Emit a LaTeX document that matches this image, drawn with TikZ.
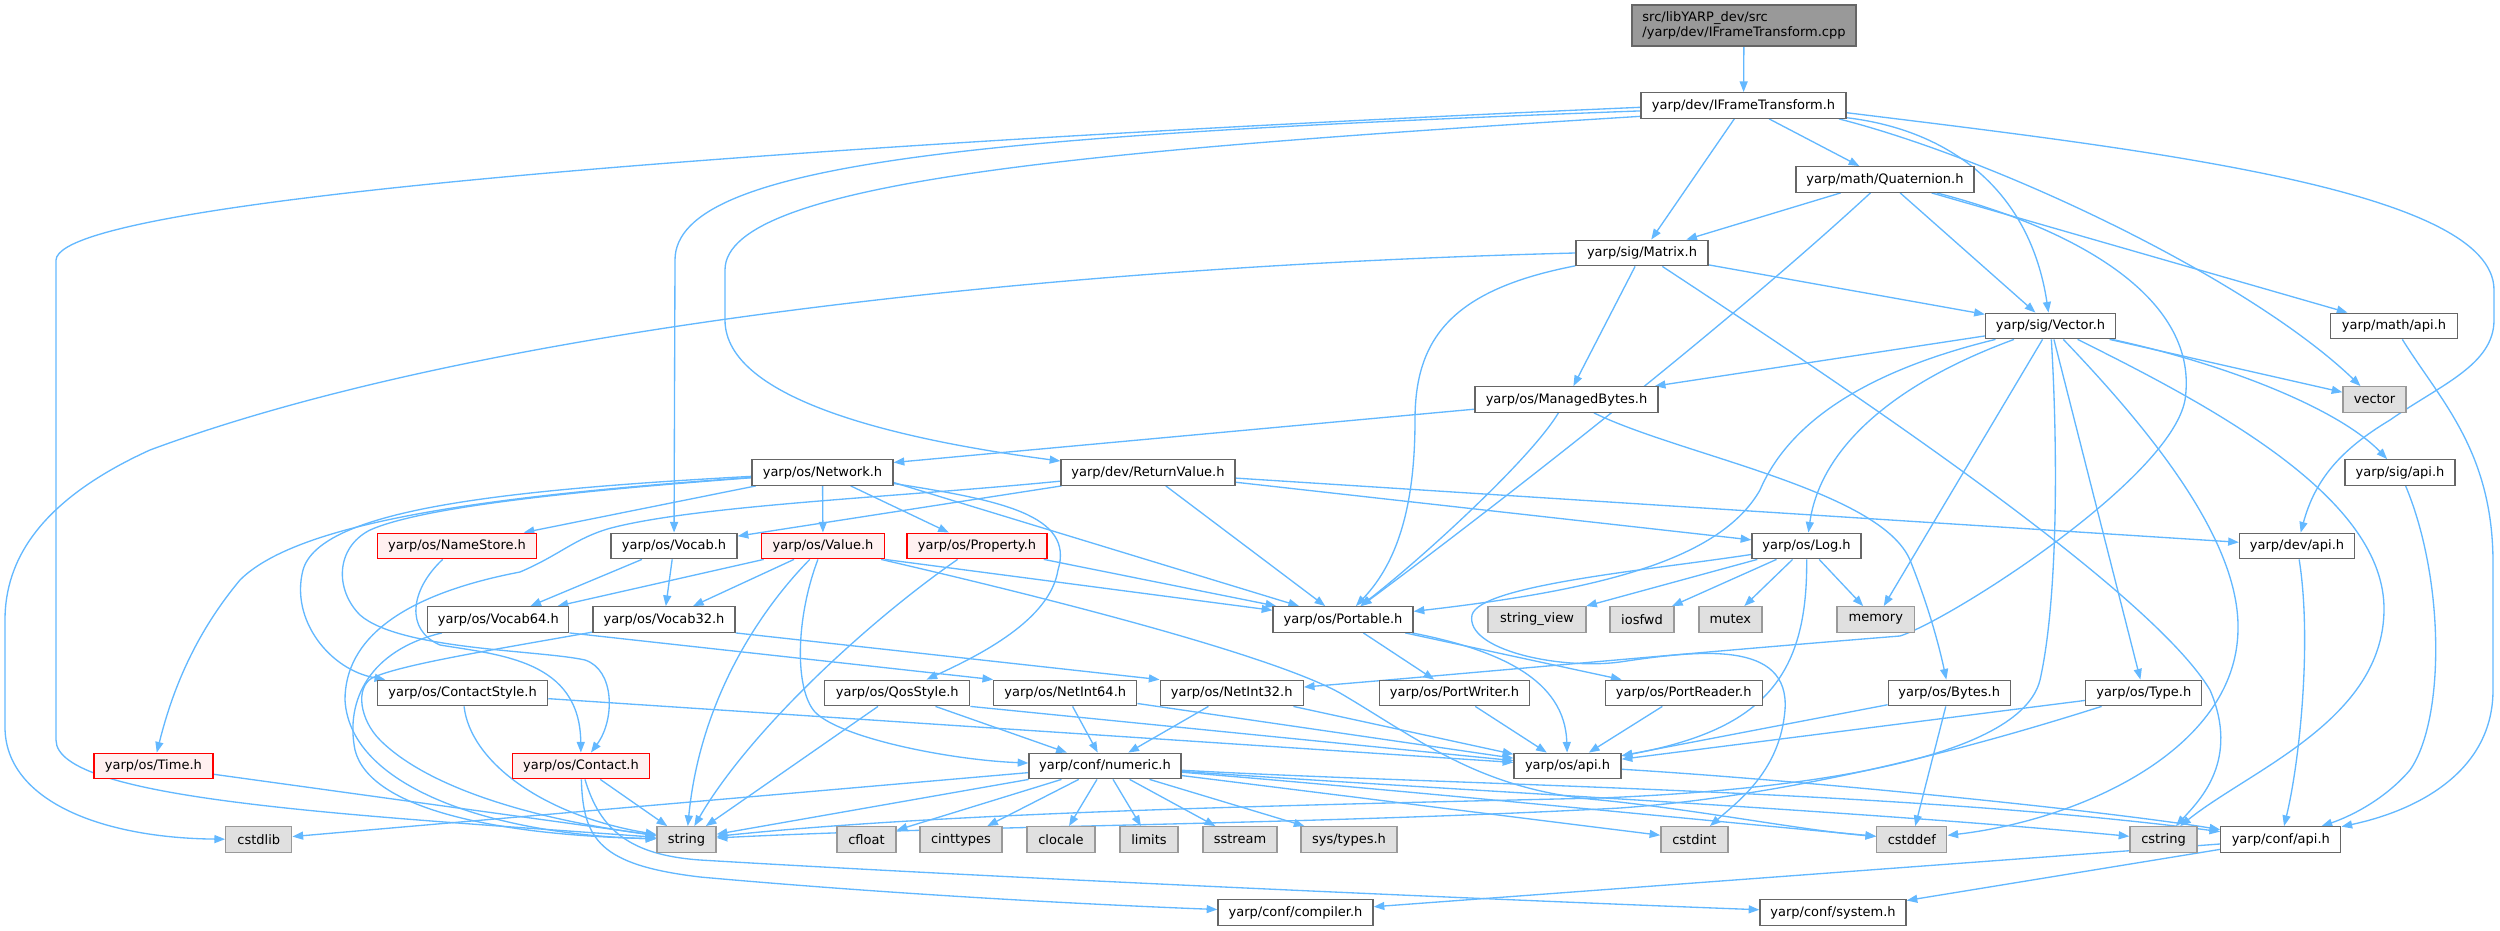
\documentclass[tikz,border=0pt]{standalone}
\usepackage{fontspec}
\setmainfont{DejaVu Sans}
\usetikzlibrary{arrows.meta}
\definecolor{edgeblue}{HTML}{63B8FF}
\definecolor{nodegray}{HTML}{666666}
\definecolor{extgray}{HTML}{999999}
\definecolor{extfill}{HTML}{E0E0E0}
\definecolor{rootfill}{HTML}{999999}
\definecolor{truncfill}{HTML}{FFF0F0}
\newcommand\nodefont{\fontsize{9.75}{11.25}\selectfont}
\pgfdeclarelayer{bg}
\pgfsetlayers{bg,main}
\begin{document}
\begin{tikzpicture}[x=0.75pt,y=-0.75pt,
  nbase/.style={rectangle, line width=1pt, inner sep=0pt, minimum height=25.5*0.75pt, font=\nodefont, text=black},
  nb/.style={nbase, draw=nodegray, fill=white},
  ext/.style={nbase, draw=extgray, fill=extfill},
  trunc/.style={nbase, draw=red, fill=truncfill},
  wd/.style={minimum width=#1*0.75pt},
  lnk/.style={draw=edgeblue, line width=1pt, -{Triangle[length=8pt,width=6pt]}}]
\useasboundingbox (0,0) rectangle (2500,931);
% ---------- nodes ----------
\node[nb,fill=rootfill,wd=224,minimum height=41*0.75pt,align=left] (root) at (1744,25.5) {src/libYARP\_dev/src\\/yarp/dev/IFrameTransform.cpp};
\node[nb,wd=205] (IFT) at (1743.5,105.5) {yarp/dev/IFrameTransform.h};
\node[nb,wd=178] (Quat) at (1885,179.5) {yarp/math/Quaternion.h};
\node[nb,wd=132] (Matrix) at (1642,253) {yarp/sig/Matrix.h};
\node[nb,wd=130] (Vector) at (2050.5,326) {yarp/sig/Vector.h};
\node[nb,wd=127] (mathapi) at (2394,326) {yarp/math/api.h};
\node[ext,wd=63] (vector) at (2374.5,399.5) {vector};
\node[nb,wd=183] (MB) at (1566.5,399.5) {yarp/os/ManagedBytes.h};
\node[nb,wd=110] (sigapi) at (2400,472.5) {yarp/sig/api.h};
\node[nb,wd=141] (Network) at (822.5,472.5) {yarp/os/Network.h};
\node[nb,wd=174] (RV) at (1148,472.5) {yarp/dev/ReturnValue.h};
\node[trunc,wd=159] (NameStore) at (457,546) {yarp/os/NameStore.h};
\node[nb,wd=126] (Vocab) at (674,546) {yarp/os/Vocab.h};
\node[trunc,wd=122.5] (Value) at (823,546) {yarp/os/Value.h};
\node[trunc,wd=140] (Property) at (977,546) {yarp/os/Property.h};
\node[nb,wd=109] (Log) at (1806.5,546) {yarp/os/Log.h};
\node[nb,wd=115] (devapi) at (2297,546) {yarp/dev/api.h};
\node[nb,wd=141] (Vocab64) at (498.3,619.5) {yarp/os/Vocab64.h};
\node[nb,wd=142] (Vocab32) at (664,619.5) {yarp/os/Vocab32.h};
\node[nb,wd=140] (Portable) at (1343,619.5) {yarp/os/Portable.h};
\node[ext,wd=98] (stringview) at (1537,619.5) {string\_view};
\node[ext,wd=64] (iosfwd) at (1642,619.5) {iosfwd};
\node[ext,wd=63] (mutex) at (1730.4,619.5) {mutex};
\node[ext,wd=77.5] (memory) at (1875.8,619.5) {memory};
\node[nb,wd=170] (CStyle) at (462.6,693) {yarp/os/ContactStyle.h};
\node[nb,wd=145] (Qos) at (897.3,693) {yarp/os/QosStyle.h};
\node[nb,wd=143] (NetInt64) at (1065.3,693) {yarp/os/NetInt64.h};
\node[nb,wd=143] (NetInt32) at (1231.7,693) {yarp/os/NetInt32.h};
\node[nb,wd=150] (PortWriter) at (1454.5,693) {yarp/os/PortWriter.h};
\node[nb,wd=157] (PortReader) at (1683.7,693) {yarp/os/PortReader.h};
\node[nb,wd=122] (Bytes) at (1949.2,693) {yarp/os/Bytes.h};
\node[nb,wd=116] (Type) at (2143.8,693) {yarp/os/Type.h};
\node[trunc,wd=119] (Time) at (153.4,766) {yarp/os/Time.h};
\node[trunc,wd=137] (Contact) at (581,766) {yarp/os/Contact.h};
\node[nb,wd=152] (numeric) at (1105,766) {yarp/conf/numeric.h};
\node[nb,wd=107] (osapi) at (1567.5,766) {yarp/os/api.h};
\node[ext,wd=66] (cstdlib) at (258.8,839.5) {cstdlib};
\node[ext,wd=59] (string) at (686.5,839.5) {string};
\node[ext,wd=59] (cfloat) at (866.5,839.5) {cfloat};
\node[ext,wd=82] (cinttypes) at (961,839.5) {cinttypes};
\node[ext,wd=68] (clocale) at (1061,839.5) {clocale};
\node[ext,wd=58] (limits) at (1149,839.5) {limits};
\node[ext,wd=74] (sstream) at (1240,839.5) {sstream};
\node[ext,wd=96] (systypes) at (1349,839.5) {sys/types.h};
\node[ext,wd=67] (cstdint) at (1694.4,839.5) {cstdint};
\node[ext,wd=70] (cstddef) at (1911.8,839.5) {cstddef};
\node[ext,wd=67] (cstring) at (2163.5,839.5) {cstring};
\node[nb,wd=120] (confapi) at (2280.8,839.5) {yarp/conf/api.h};
\node[nb,wd=155] (compiler) at (1295.5,912.5) {yarp/conf/compiler.h};
\node[nb,wd=146] (system) at (1833,912.5) {yarp/conf/system.h};
% ---------- edges ----------
\begin{pgfonlayer}{bg}
\draw[lnk] (root) -- (IFT);
% IFrameTransform.h
\draw[lnk] (IFT) -- (Matrix);
\draw[lnk] (IFT) -- (Quat);
\draw[lnk] (IFT) .. controls (1950,130) and (2030,190) .. (Vector);
\draw[lnk] (IFT.-8) .. controls (2000,160) and (2250,280) .. (vector);
\draw[lnk] (IFT.-4) .. controls (2150,150) and (2494,190) .. (2494,290) -- (2494,320) .. controls (2494,365) and (2440,385) .. (2390,420) .. controls (2340,450) and (2315,480) .. (devapi);
\draw[lnk] (IFT.181) .. controls (1000,135) and (60,190) .. (56,260) -- (56,740) .. controls (56,800) and (350,815) .. (string);
\draw[lnk] (IFT.183) .. controls (1000,135) and (675,160) .. (675,260) -- (Vocab);
\draw[lnk] (IFT.186) .. controls (1100,150) and (725,180) .. (725,270) -- (725,320) .. controls (725,400) and (900,440) .. (RV);
% Quaternion.h
\draw[lnk] (Quat) -- (Matrix);
\draw[lnk] (Quat) .. controls (1700,350) and (1450,540) .. (Portable);
\draw[lnk] (Quat) -- (Vector);
\draw[lnk] (Quat) .. controls (2080,230) and (2200,300) .. (2185,400) .. controls (2170,480) and (1950,620) .. (1900,636) .. controls (1700,652) and (1450,675) .. (NetInt32);
\draw[lnk] (Quat) -- (mathapi);
% Matrix.h
\draw[lnk] (Matrix) -- (MB);
\draw[lnk] (Matrix) -- (Vector);
\draw[lnk] (Matrix) .. controls (1450,290) and (1415,340) .. (1415,420) .. controls (1415,500) and (1400,560) .. (Portable);
\draw[lnk] (Matrix.west) .. controls (1100,265) and (500,320) .. (150,450) .. controls (40,500) and (5,560) .. (5,620) -- (5,727) .. controls (5,800) and (100,838) .. (cstdlib);
\draw[lnk] (Matrix) .. controls (1850,390) and (2150,590) .. (2210,690) .. controls (2240,760) and (2200,800) .. (cstring);
% Vector.h
\draw[lnk] (Vector) -- (MB);
\draw[lnk] (Vector) .. controls (1870,370) and (1790,420) .. (1760,490) .. controls (1720,560) and (1600,590) .. (Portable);
\draw[lnk] (Vector) .. controls (1890,385) and (1820,450) .. (Log);
\draw[lnk] (Vector) -- (memory);
\draw[lnk] (Vector) .. controls (2058,450) and (2058,600) .. (2040,680) .. controls (2020,760) and (1800,790) .. (1600,798) .. controls (1300,805) and (950,812) .. (string);
\draw[lnk] (Vector) -- (Type);
\draw[lnk] (Vector) .. controls (2150,430) and (2240,540) .. (2238,630) .. controls (2236,750) and (2080,820) .. (cstddef);
\draw[lnk] (Vector) .. controls (2220,410) and (2385,500) .. (2384,610) .. controls (2383,720) and (2250,770) .. (cstring);
\draw[lnk] (Vector) .. controls (2230,365) and (2340,410) .. (sigapi);
\draw[lnk] (Vector) -- (vector);
% Bytes.h, Type.h
\draw[lnk] (Bytes) -- (osapi);
\draw[lnk] (Bytes) -- (cstddef);
\draw[lnk] (Type) -- (osapi);
\draw[lnk] (Type) .. controls (1980,745) and (1800,795) .. (1620,808) .. controls (1300,825) and (950,826) .. (string);
% Log.h
\draw[lnk] (Log) .. controls (1650,570) and (1480,585) .. (1472,615) .. controls (1465,650) and (1560,670) .. (1620,662) .. controls (1700,650) and (1790,640) .. (1785,710) .. controls (1780,770) and (1740,800) .. (cstdint);
\draw[lnk] (Log) -- (stringview);
\draw[lnk] (Log) -- (iosfwd);
\draw[lnk] (Log) -- (mutex);
\draw[lnk] (Log) -- (memory);
\draw[lnk] (Log) .. controls (1808,680) and (1760,730) .. (osapi);
% Portable.h
\draw[lnk] (Portable) -- (PortWriter);
\draw[lnk] (Portable) -- (PortReader);
\draw[lnk] (Portable) .. controls (1500,650) and (1565,680) .. (osapi);
\draw[lnk] (PortWriter) -- (osapi);
\draw[lnk] (PortReader) -- (osapi);
% NetInt / QosStyle / ContactStyle
\draw[lnk] (NetInt32) -- (numeric);
\draw[lnk] (NetInt32) -- (osapi);
\draw[lnk] (NetInt64) -- (numeric);
\draw[lnk] (NetInt64) -- (osapi);
\draw[lnk] (Qos) -- (numeric);
\draw[lnk] (Qos.south east) -- (osapi);
\draw[lnk] (Qos) -- (string);
\draw[lnk] (CStyle) -- (osapi);
\draw[lnk] (CStyle) .. controls (470,760) and (540,815) .. (string);
% Time.h, Contact.h, NameStore.h
\draw[lnk] (Time) -- (string);
\draw[lnk] (Contact) -- (string);
\draw[lnk] (Contact) .. controls (583,840) and (600,865) .. (700,877) .. controls (900,895) and (1100,905) .. (compiler);
\draw[lnk] (Contact) .. controls (600,830) and (630,855) .. (700,860) .. controls (1000,878) and (1500,900) .. (system);
\draw[lnk] (NameStore) .. controls (410,590) and (405,630) .. (440,645) .. controls (500,655) and (580,660) .. (Contact);
% Network.h
\draw[lnk] (Network) .. controls (500,495) and (300,520) .. (240,580) .. controls (190,640) and (170,700) .. (Time);
\draw[lnk] (Network) .. controls (500,490) and (320,510) .. (303,570) .. controls (290,620) and (330,670) .. (CStyle);
\draw[lnk] (Network) .. controls (560,492) and (420,508) .. (370,530) .. controls (335,548) and (335,590) .. (360,615) .. controls (400,650) and (540,650) .. (585,660) .. controls (615,670) and (615,720) .. (Contact);
\draw[lnk] (Network) -- (NameStore);
\draw[lnk] (Network) -- (Value);
\draw[lnk] (Network) -- (Property);
\draw[lnk] (Network.-8) -- (Portable);
\draw[lnk] (Network) .. controls (1000,500) and (1075,515) .. (1058,570) .. controls (1050,620) and (980,655) .. (Qos);
% ReturnValue.h
\draw[lnk] (RV) -- (Vocab);
\draw[lnk] (RV) .. controls (900,497) and (700,505) .. (611,528) .. controls (575,538) and (560,555) .. (520,572) .. controls (400,595) and (345,640) .. (345,700) .. controls (350,790) and (500,835) .. (string);
\draw[lnk] (RV) -- (Portable);
\draw[lnk] (RV) -- (Log);
\draw[lnk] (RV) -- (devapi);
% ManagedBytes.h
\draw[lnk] (MB.186) -- (Network.8);
\draw[lnk] (MB) .. controls (1530,460) and (1420,560) .. (Portable);
\draw[lnk] (MB) .. controls (1680,455) and (1880,490) .. (1910,560) .. controls (1930,610) and (1940,650) .. (Bytes);
% Value.h
\draw[lnk] (Value) -- (Vocab64);
\draw[lnk] (Value) -- (Vocab32);
\draw[lnk] (Value) .. controls (760,610) and (700,700) .. (string);
\draw[lnk] (Value) .. controls (795,620) and (795,690) .. (815,712) .. controls (840,738) and (950,760) .. (numeric);
\draw[lnk] (Value.south east) -- (Portable);
\draw[lnk] (Value) .. controls (1100,610) and (1280,660) .. (1340,693) .. controls (1420,740) and (1480,790) .. (1600,800) .. controls (1700,810) and (1800,830) .. (cstddef);
% Property.h
\draw[lnk] (Property) -- (Portable);
\draw[lnk] (Property) .. controls (870,620) and (750,730) .. (string);
% Vocab
\draw[lnk] (Vocab) -- (Vocab64);
\draw[lnk] (Vocab) -- (Vocab32);
\draw[lnk] (Vocab64.south east) -- (NetInt64.north west);
\draw[lnk] (Vocab64) .. controls (370,650) and (345,700) .. (355,750) .. controls (370,810) and (500,835) .. (string);
\draw[lnk] (Vocab32.south east) -- (NetInt32.north west);
\draw[lnk] (Vocab32) .. controls (480,652) and (400,665) .. (372,678) .. controls (355,688) and (360,720) .. (380,740) .. controls (430,790) and (540,820) .. (string);
% numeric.h
\draw[lnk] (numeric) -- (cstdlib);
\draw[lnk] (numeric) -- (string);
\draw[lnk] (numeric) -- (cfloat);
\draw[lnk] (numeric) -- (cinttypes);
\draw[lnk] (numeric) -- (clocale);
\draw[lnk] (numeric) -- (limits);
\draw[lnk] (numeric) -- (sstream);
\draw[lnk] (numeric) -- (systypes);
\draw[lnk] (numeric) -- (cstdint);
\draw[lnk] (numeric) .. controls (1400,790) and (1700,820) .. (cstddef);
\draw[lnk] (numeric) .. controls (1450,790) and (1850,810) .. (cstring);
\draw[lnk] (numeric) .. controls (1450,785) and (1900,790) .. (confapi);
% api headers
\draw[lnk] (osapi) .. controls (1800,780) and (2100,810) .. (confapi);
\draw[lnk] (confapi) -- (compiler);
\draw[lnk] (confapi) -- (system);
\draw[lnk] (devapi) .. controls (2312,640) and (2300,760) .. (confapi);
\draw[lnk] (sigapi) .. controls (2445,580) and (2445,720) .. (2410,770) .. controls (2380,805) and (2340,820) .. (confapi);
\draw[lnk] (mathapi) .. controls (2440,400) and (2492,450) .. (2493,560) -- (2493,690) .. controls (2493,770) and (2420,810) .. (confapi);
\end{pgfonlayer}
\end{tikzpicture}
\end{document}
